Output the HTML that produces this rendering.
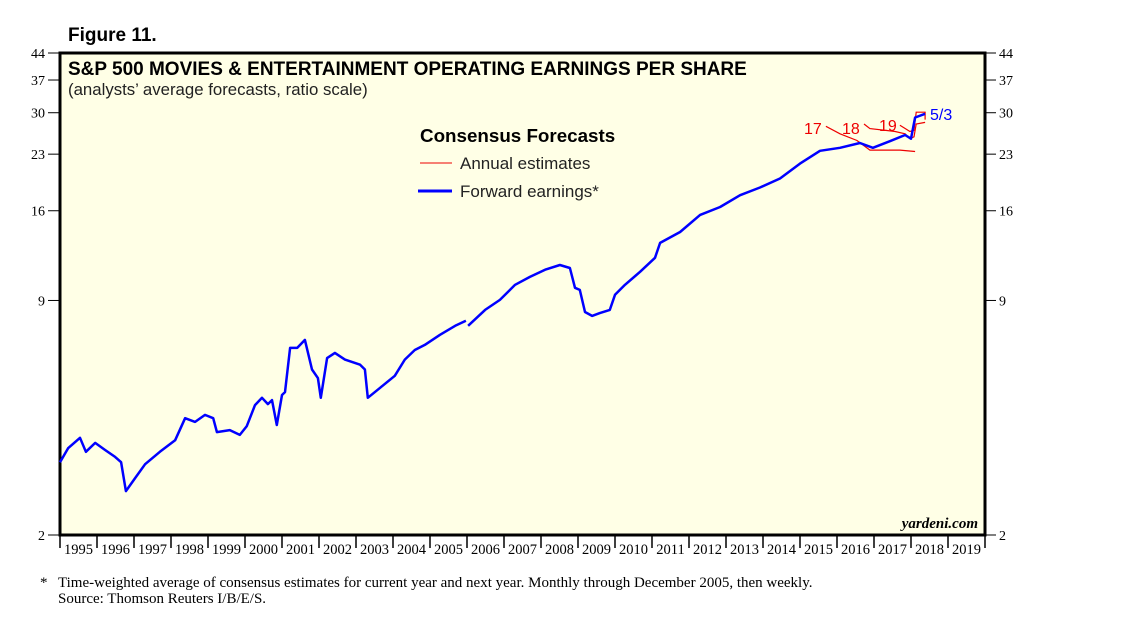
<!DOCTYPE html>
<html><head><meta charset="utf-8"><style>
body{margin:0;background:#fff;}
svg{display:block;font-family:"Liberation Sans",sans-serif;}
.serif{font-family:"Liberation Serif",serif;}
</style></head><body>
<svg id="chart" width="1138" height="637" viewBox="0 0 1138 637">
<text x="68" y="41" font-size="19" font-weight="bold">Figure 11.</text>
<rect x="60" y="53" width="925" height="482" fill="#ffffe6" stroke="#000" stroke-width="3"/>
<text x="68" y="75" font-size="19" font-weight="bold">S&amp;P 500 MOVIES &amp; ENTERTAINMENT OPERATING EARNINGS PER SHARE</text>
<text x="68" y="95" font-size="16.8" fill="#222">(analysts’ average forecasts, ratio scale)</text>
<g id="yaxis"></g><g id="xaxis"></g>
<g>
<text x="420" y="142" font-size="18.8" font-weight="bold">Consensus Forecasts</text>
<line x1="420" y1="163" x2="452" y2="163" stroke="#e00" stroke-width="1"/>
<text x="460" y="169" font-size="17" fill="#222">Annual estimates</text>
<line x1="418" y1="191" x2="452" y2="191" stroke="#0000ff" stroke-width="3"/>
<text x="460" y="197" font-size="17" fill="#222">Forward earnings*</text>
</g>
<g id="series"></g>
<text x="978" y="528" font-size="15" font-weight="bold" font-style="italic" text-anchor="end" class="serif">yardeni.com</text>
<text x="40" y="587" font-size="15" class="serif">*</text>
<text x="58" y="587" font-size="15" class="serif">Time-weighted average of consensus estimates for current year and next year. Monthly through December 2005, then weekly.</text>
<text x="58" y="603" font-size="15" class="serif">Source: Thomson Reuters I/B/E/S.</text>
</svg>
<script>
const yTicks=[2,9,16,23,30,37,44];
const yearLabels=[1995,1996,1997,1998,1999,2000,2001,2002,2003,2004,2005,2006,2007,2008,2009,2010,2011,2012,2013,2014,2015,2016,2017,2018,2019];
const fwdYears=[1995.00,1995.22,1995.54,1995.70,1995.95,1996.22,1996.49,1996.65,1996.78,1997.03,1997.30,1997.70,1998.11,1998.38,1998.65,1998.92,1999.14,1999.24,1999.59,1999.86,2000.05,2000.27,2000.46,2000.62,2000.73,2000.86,2001.00,2001.08,2001.22,2001.41,2001.62,2001.81,2001.97,2002.05,2002.22,2002.43,2002.70,2003.11,2003.24,2003.32,2003.65,2004.05,2004.32,2004.59,2004.86,2005.27,2005.68,2005.97,2006.00,2006.03,2006.49,2006.89,2007.30,2007.70,2008.11,2008.51,2008.78,2008.92,2009.05,2009.19,2009.38,2009.59,2009.86,2010.00,2010.27,2010.68,2011.08,2011.22,2011.76,2012.30,2012.84,2013.38,2013.92,2014.46,2015.00,2015.54,2016.08,2016.62,2016.97,2017.43,2017.84,2018.00,2018.11,2018.38];
const fwdValues=[3.19,3.49,3.73,3.41,3.61,3.45,3.30,3.19,2.65,2.88,3.15,3.41,3.67,4.23,4.13,4.32,4.23,3.87,3.92,3.80,4.02,4.60,4.82,4.63,4.75,4.05,4.91,5.00,6.64,6.64,6.99,5.78,5.47,4.82,6.22,6.43,6.16,5.96,5.78,4.82,5.14,5.55,6.16,6.55,6.77,7.22,7.65,7.90,null,7.65,8.47,9.03,9.95,10.47,10.96,11.30,11.08,9.76,9.63,8.36,8.15,8.30,8.47,9.33,9.95,10.82,11.83,13.02,13.96,15.58,16.39,17.68,18.57,19.67,21.65,23.50,23.95,24.7,23.95,25.0,26.0,25.4,29.1,29.8];
const a17Years=[2015.70,2016.08,2016.54,2016.89,2017.70,2018.11];
const a17Values=[27.5,26.2,25.1,23.6,23.6,23.4];
const a18Years=[2016.73,2016.89,2017.57,2017.84,2017.97,2018.08,2018.14,2018.38];
const a18Values=[27.9,27.1,26.6,26.2,25.4,25.7,27.9,28.2];
const a19Years=[2017.70,2017.97,2018.08,2018.14,2018.38,2018.38];
const a19Values=[27.7,26.6,26.8,30.1,30.1,28.7];
const X0=60,X1=985,Y0=535,Y1=53,YMIN=2,YMAX=44;
const xs=y=>X0+(y-1995)*(X1-X0)/25;
const ys=v=>Y0-Math.log(v/YMIN)/Math.log(YMAX/YMIN)*(Y0-Y1);
const NS="http://www.w3.org/2000/svg";
function mk(tag,attrs,parent){const e=document.createElementNS(NS,tag);for(const k in attrs)e.setAttribute(k,attrs[k]);parent.appendChild(e);return e;}
const ya=document.getElementById('yaxis');
yTicks.forEach(t=>{const y=ys(t);
 let l=mk('line',{x1:48,x2:59,y1:y,y2:y,stroke:'#000'},ya);
 
 
 let r=mk('line',{x1:986,x2:996,y1:y,y2:y,stroke:'#000'},ya);
 
 
 let tl=mk('text',{x:45,y:y+5,'text-anchor':'end','font-size':14,class:'serif'},ya);tl.textContent=t;
 
 
 let tr=mk('text',{x:999,y:y+5,'font-size':14,class:'serif'},ya);tr.textContent=t;
 
 
});
const xa=document.getElementById('xaxis');
for(let i=0;i<=yearLabels.length;i++){const x=xs(1995+i);
 let l=mk('line',{x1:x,x2:x,y1:535,y2:548,stroke:'#000','stroke-width':1.5},xa);
 
 }
yearLabels.forEach(yr=>{let t=mk('text',{x:xs(yr+0.5),y:554,'text-anchor':'middle','font-size':14.5,class:'serif'},xa);t.textContent=yr;
 
 });
const sg=document.getElementById('series');
function path(yrs,vals){let d='',pen=false;yrs.forEach((y,i)=>{const v=vals[i];if(v==null){pen=false;return;}d+=(pen?'L':'M')+xs(y).toFixed(1)+','+ys(v).toFixed(1);pen=true;});return d;}
[[a17Years,a17Values,'annual-2017-line'],[a18Years,a18Values,'annual-2018-line'],[a19Years,a19Values,'annual-2019-line']].forEach(([a,b,n])=>{
 let p=mk('path',{d:path(a,b),fill:'none',stroke:'#e00','stroke-width':1.2},sg);
 
 });
let fp=mk('path',{d:path(fwdYears,fwdValues),fill:'none',stroke:'#0000ff','stroke-width':2.5,'stroke-linejoin':'round'},sg);


[['17',804,134,'label-2017'],['18',842,134,'label-2018'],['19',879,131,'label-2019']].forEach(([t,x,y,n])=>{let e=mk('text',{x:x,y:y,'font-size':16,fill:'#e00'},sg);e.textContent=t;
 
 });
let dl=mk('text',{x:930,y:120,'font-size':16,fill:'#0000ff'},sg);dl.textContent='5/3';


</script>
</body></html>
